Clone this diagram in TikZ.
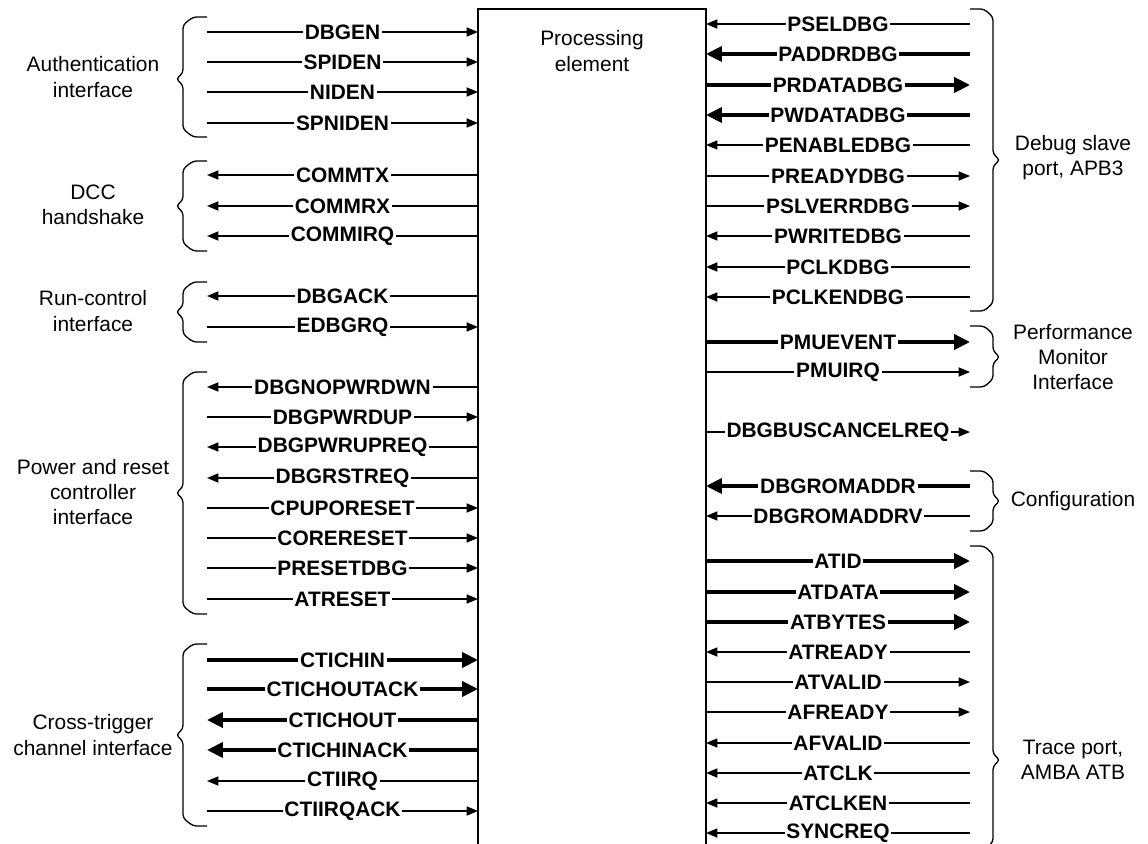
\documentclass[tikz,border=0pt]{standalone}
\usepackage{fontspec}
\setmainfont{Liberation Sans}
\usetikzlibrary{arrows.meta}

\begin{document}
\begin{tikzpicture}[x=0.02cm, y=-0.02cm,
        font=\fontsize{11.9}{14.3}\selectfont,
        sig/.style={line width=0.75pt},
        bus/.style={line width=2.1pt},
        sigin/.style={sig, -{Triangle[length=6.5pt, width=5.2pt]}},
        sigout/.style={sig, {Triangle[length=6.5pt, width=5.2pt]}-},
        busin/.style={bus, -{Triangle[length=9pt, width=8.5pt]}},
        busout/.style={bus, {Triangle[length=9pt, width=8.5pt]}-},
        signame/.style={fill=white, font=\fontsize{11.9}{14.3}\selectfont\bfseries, inner xsep=1pt, inner ysep=0pt},
        grp/.style={align=center},
        brc/.style={line width=0.75pt, rounded corners=2pt}]
    \fill[white] (0,0) rectangle (1148,844);
    \clip (0,0) rectangle (1148,844);

    % processing element
    \coordinate (pe-nw) at (478,9);
    \coordinate (pe-ne) at (706,9);
    \coordinate (pe-sw) at (478,850);
    \coordinate (pe-se) at (706,850);
    \node[grp] (pe) at (592,51) {Processing\\element};

    % left side signals
    \foreach \y/\s/\kind in {32/DBGEN/sigin, 62/SPIDEN/sigin, 92/NIDEN/sigin, 123/SPNIDEN/sigin,
            175/COMMTX/sigout, 206/COMMRX/sigout, 236/COMMIRQ/sigout,
            296/DBGACK/sigout, 327/EDBGRQ/sigin,
            387/DBGNOPWRDWN/sigout, 417/DBGPWRDUP/sigin, 447/DBGPWRUPREQ/sigout, 478/DBGRSTREQ/sigout,
            508/CPUPORESET/sigin, 538/CORERESET/sigin, 568/PRESETDBG/sigin, 599/ATRESET/sigin,
            660/CTICHIN/busin, 689/CTICHOUTACK/busin, 720/CTICHOUT/busout, 750/CTICHINACK/busout,
            781/CTIIRQ/sigout, 811/CTIIRQACK/sigin} {
        \coordinate (L\s) at (207,\y);
        \draw[\kind] (L\s) -- (L\s -| pe-nw) node[midway, signame] (nL\s) {\s};
    }

    % right side signals
    \foreach \y/\s/\kind in {24/PSELDBG/sigin, 54/PADDRDBG/busin, 85/PRDATADBG/busout, 115/PWDATADBG/busin,
            145/PENABLEDBG/sigin, 176/PREADYDBG/sigout, 206/PSLVERRDBG/sigout, 236/PWRITEDBG/sigin,
            267/PCLKDBG/sigin, 297/PCLKENDBG/sigin,
            342/PMUEVENT/busout, 372/PMUIRQ/sigout,
            432/DBGBUSCANCELREQ/sigout,
            486/DBGROMADDR/busin, 516/DBGROMADDRV/sigin,
            561/ATID/busout, 592/ATDATA/busout, 622/ATBYTES/busout, 652/ATREADY/sigin,
            682/ATVALID/sigout, 712/AFREADY/sigout, 743/AFVALID/sigin, 773/ATCLK/sigin,
            803/ATCLKEN/sigin, 833/SYNCREQ/sigin} {
        \coordinate (R\s) at (970,\y);
        \draw[\kind] (R\s) -- (R\s -| pe-ne) node[midway, signame] (nR\s) {\s};
    }

    \draw[sig] (pe-sw) -- (pe-nw) -- (pe-ne) -- (pe-se);

    % braces
    \foreach \t/\b/\m in {17/137/79, 161/251/206, 282/342/312, 372/614/493, 644/826/735}
        \draw[brc] (207,\t) -- (193,\t) -- (183,\t+8) -- (183,\m-6) -- (176,\m) -- (183,\m+6)
            -- (183,\b-8) -- (193,\b) -- (207,\b);
    \foreach \t/\b/\m in {9/311/160, 326/387/357, 471/531/501, 546/850/760}
        \draw[brc] (970,\t) -- (984,\t) -- (993,\t+8) -- (993,\m-6) -- (1000,\m) -- (993,\m+6)
            -- (993,\b-8) -- (984,\b) -- (970,\b);

    % group names
    \node[grp] (auth) at (93,77) {Authentication\\interface};
    \node[grp] (dcc) at (93,205) {DCC\\handshake};
    \node[grp] (runctl) at (93,311) {Run-control\\interface};
    \node[grp] (pwrrst) at (93,492) {Power and reset\\controller\\interface};
    \node[grp] (cti) at (93,735) {Cross-trigger\\channel interface};
    \node[grp] (dbgslv) at (1073,158) {Debug slave\\port, APB3};
    \node[grp] (pmu) at (1073,357) {Performance\\Monitor\\Interface};
    \node[grp] (cfg) at (1073,501) {Configuration};
    \node[grp] (trace) at (1073,760) {Trace port,\\AMBA ATB};
\end{tikzpicture}
\end{document}
